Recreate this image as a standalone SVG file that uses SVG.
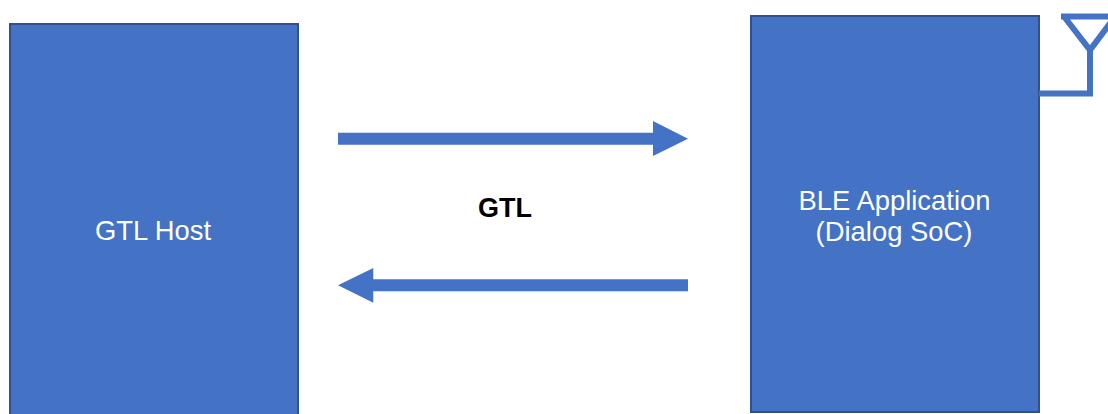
<svg xmlns="http://www.w3.org/2000/svg" width="1108" height="414" viewBox="0 0 1108 414">
<style>
.box{fill:#4472c4;stroke:#2f528f;stroke-width:2}
.w{font-family:"Liberation Sans",Arial,sans-serif;font-size:27.4px;fill:#fff;text-anchor:middle}
.b{font-family:"Liberation Sans",Arial,sans-serif;font-size:27px;font-weight:bold;fill:#000;text-anchor:middle}
.ln{fill:none;stroke:#4472c4;stroke-width:6}
.ar{fill:#4472c4}
</style>
<rect width="1108" height="414" fill="#fff"/>
<g id="gtl-host"><rect class="box" x="10" y="24" width="288" height="400"/><text class="w" x="153" y="240">GTL Host</text></g>
<g id="ble-app"><rect class="box" x="751" y="16" width="288" height="396"/><text class="w" x="894.500" y="210">BLE Application</text><text class="w" x="894" y="241">(Dialog SoC)</text></g>
<g id="antenna"><path class="ln" d="M1039 93.500H1090V50M1061 16.500H1108M1064 16.500L1090 50L1111 22"/></g>
<g id="connectors">
<path class="ar" d="M338 132.700H653V121L688 138.700L653 156V144.700H338Z"/>
<path class="ar" d="M688 279.300H373.300V268L338 285.300L373.300 302.700V291.300H688Z"/>
</g>
<g id="label"><text class="b" x="505" y="217">GTL</text></g>
</svg>
